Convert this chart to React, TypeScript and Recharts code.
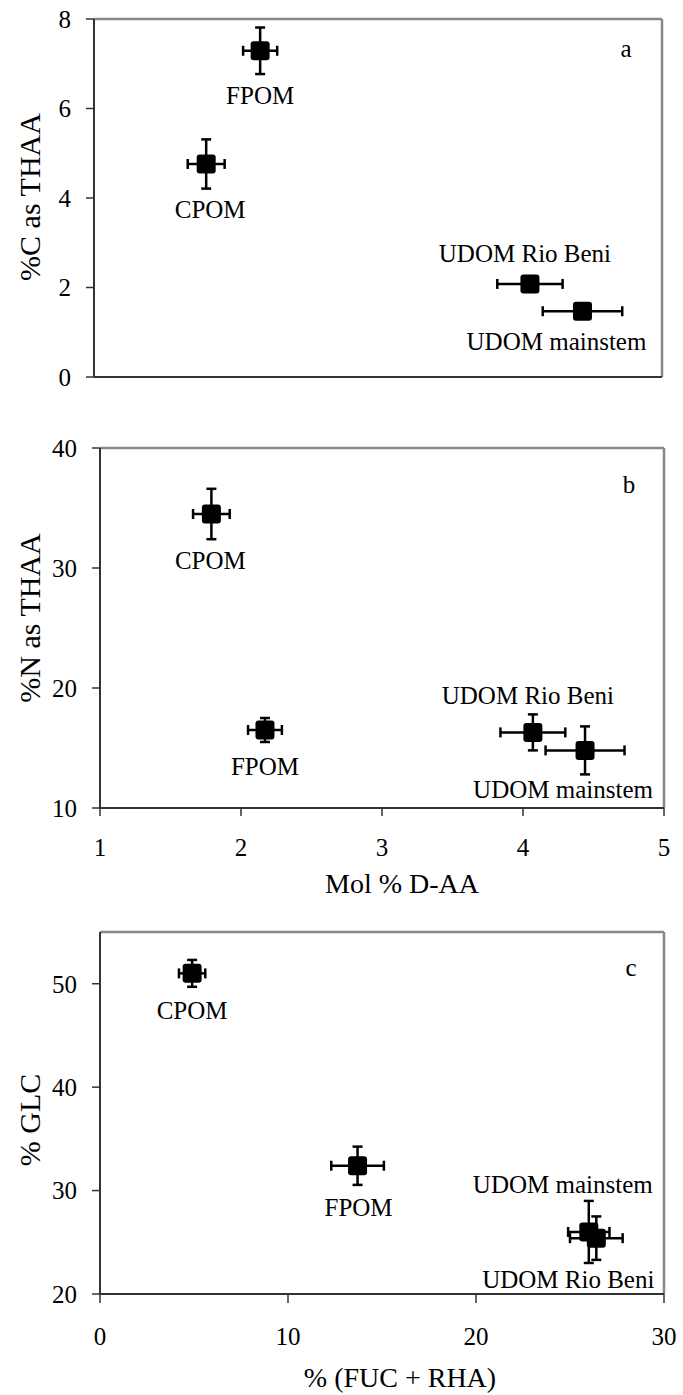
import React from "react";
import { ScatterChart, Scatter, XAxis, YAxis, ErrorBar, ReferenceLine } from "recharts";

const FONT = "'Liberation Serif', 'Times New Roman', Times, serif";

// panels a and b share the same samples on the Mol % D-AA axis
const SAMPLES_AB = ["FPOM", "CPOM", "UDOM Rio Beni", "UDOM mainstem"];
const MOL_DAA = [2.17, 1.79, 4.07, 4.44];
const MOL_DAA_ERR = [0.12, 0.13, 0.23, 0.28];
const C_THAA = [7.29, 4.76, 2.08, 1.47];
const C_THAA_ERR = [0.52, 0.55, 0.1, 0.1];
const N_THAA = [16.5, 34.5, 16.3, 14.8];
const N_THAA_ERR = [1.0, 2.1, 1.5, 2.0];

// panel c: carbohydrates
const SAMPLES_C = ["CPOM", "FPOM", "UDOM mainstem", "UDOM Rio Beni"];
const FUC_RHA = [4.9, 13.7, 26.0, 26.4];
const FUC_RHA_ERR = [0.7, 1.4, 1.1, 1.4];
const GLC = [51.0, 32.4, 26.0, 25.4];
const GLC_ERR = [1.3, 1.85, 3.0, 2.1];

const TICKS_DAA = [1, 2, 3, 4, 5];
const TICKS_C = [0, 2, 4, 6, 8];
const TICKS_N = [10, 20, 30, 40];
const TICKS_FUC = [0, 10, 20, 30];
const TICKS_GLC = [20, 30, 40, 50];

type Row = { name: string; x: number; y: number; ex: number; ey: number };

const rows = (names: string[], xs: number[], ys: number[], exs: number[], eys: number[]): Row[] =>
  names.map((name, i) => ({ name, x: xs[i], y: ys[i], ex: exs[i], ey: eys[i] }));

// where each sample name sits relative to its marker (dx to text centre, dy to baseline)
const LABELS_A: Record<string, [number, number]> = {
  FPOM: [0, 53],
  CPOM: [4, 54],
  "UDOM Rio Beni": [-5, -22],
  "UDOM mainstem": [-26, 39],
};
const LABELS_B: Record<string, [number, number]> = {
  CPOM: [-1, 55],
  FPOM: [0, 45],
  "UDOM Rio Beni": [-5, -28],
  "UDOM mainstem": [-22, 48],
};
const LABELS_C: Record<string, [number, number]> = {
  CPOM: [0, 46],
  FPOM: [1, 50],
  "UDOM mainstem": [-26, -39],
  "UDOM Rio Beni": [-28, 50],
};

const markerShape = (offsets: Record<string, [number, number]>) => (props: any) => {
  const { cx, cy, payload } = props;
  const [dx, dy] = offsets[payload.name] ?? [0, 0];
  return (
    <g>
      <rect x={cx - 9.5} y={cy - 9.5} width={19} height={19} rx={3} fill="#000" />
      <text
        x={cx + dx}
        y={cy + dy}
        textAnchor="middle"
        style={{ fontFamily: FONT, fontSize: 25 }}
        fill="#000"
      >
        {payload.name}
      </text>
    </g>
  );
};

interface PanelProps {
  top: number;
  height: number;
  data: Row[];
  labels: Record<string, [number, number]>;
  plotTop: number;
  plotLeft: number;
  plotRight: number;
  xAxisH: number;
  xDomain: [number, number];
  xTicks: number[];
  yDomain: [number, number];
  yTicks: number[];
  showXLabels: boolean;
  xTickSize: number;
  xTickMargin: number;
}

function Panel(p: PanelProps) {
  const tickStyle = { fontSize: 25, fill: "#000", style: { fontFamily: FONT } };
  return (
    <div style={{ position: "absolute", left: 0, top: p.top }}>
      <ScatterChart
        width={683}
        height={p.height}
        margin={{ top: p.plotTop, right: 683 - p.plotRight, bottom: 0, left: 0 }}
      >
        <XAxis
          type="number"
          dataKey="x"
          domain={p.xDomain}
          ticks={p.xTicks}
          height={p.xAxisH}
          axisLine={{ stroke: "#333", strokeWidth: 2 }}
          tickLine={{ stroke: "#333", strokeWidth: 1.5 }}
          tickSize={p.xTickSize}
          tickMargin={p.xTickMargin}
          tick={p.showXLabels ? tickStyle : false}
          allowDataOverflow
        />
        <YAxis
          type="number"
          dataKey="y"
          domain={p.yDomain}
          ticks={p.yTicks}
          width={p.plotLeft}
          axisLine={{ stroke: "#333", strokeWidth: 2 }}
          tickLine={{ stroke: "#333", strokeWidth: 1.5 }}
          tickSize={8}
          tickMargin={15}
          tick={tickStyle}
          allowDataOverflow
        />
        <ReferenceLine y={p.yDomain[1]} stroke="#888" strokeWidth={2.5} />
        <ReferenceLine x={p.xDomain[1]} stroke="#888" strokeWidth={2.5} />
        <Scatter data={p.data} shape={markerShape(p.labels)} isAnimationActive={false}>
          <ErrorBar dataKey="ex" direction="x" width={5} stroke="#000" strokeWidth={2.5} isAnimationActive={false} />
          <ErrorBar dataKey="ey" direction="y" width={5} stroke="#000" strokeWidth={2.5} isAnimationActive={false} />
        </Scatter>
      </ScatterChart>
    </div>
  );
}

function YTitle({ y, children }: { y: number; children: string }) {
  return (
    <text
      x={40}
      y={y}
      transform={`rotate(-90, 40, ${y})`}
      textAnchor="middle"
      style={{ fontFamily: FONT, fontSize: 30 }}
      fill="#000"
    >
      {children}
    </text>
  );
}

export default function App() {
  const dataA = rows(SAMPLES_AB, MOL_DAA, C_THAA, MOL_DAA_ERR, C_THAA_ERR);
  const dataB = rows(SAMPLES_AB, MOL_DAA, N_THAA, MOL_DAA_ERR, N_THAA_ERR);
  const dataC = rows(SAMPLES_C, FUC_RHA, GLC, FUC_RHA_ERR, GLC_ERR);
  const small = { fontFamily: FONT, fontSize: 25 };
  const big = { fontFamily: FONT, fontSize: 28 };

  return (
    <div style={{ position: "absolute", left: 0, top: 0, width: 683, height: 1395, background: "#fff", fontFamily: FONT }}>
      <Panel
        top={0}
        height={420}
        data={dataA}
        labels={LABELS_A}
        plotTop={19}
        plotLeft={94}
        plotRight={662}
        xAxisH={43}
        xDomain={[1, 5]}
        xTicks={TICKS_DAA}
        yDomain={[0, 8]}
        yTicks={TICKS_C}
        showXLabels={false}
        xTickSize={9}
        xTickMargin={22}
      />
      <Panel
        top={420}
        height={480}
        data={dataB}
        labels={LABELS_B}
        plotTop={28}
        plotLeft={100}
        plotRight={664}
        xAxisH={92}
        xDomain={[1, 5]}
        xTicks={TICKS_DAA}
        yDomain={[10, 40]}
        yTicks={TICKS_N}
        showXLabels={true}
        xTickSize={8}
        xTickMargin={22}
      />
      <Panel
        top={900}
        height={495}
        data={dataC}
        labels={LABELS_C}
        plotTop={32}
        plotLeft={100}
        plotRight={664}
        xAxisH={101}
        xDomain={[0, 30]}
        xTicks={TICKS_FUC}
        yDomain={[20, 55]}
        yTicks={TICKS_GLC}
        showXLabels={true}
        xTickSize={9}
        xTickMargin={24}
      />

      {/* axis titles and panel letters */}
      <svg
        width={683}
        height={1395}
        style={{ position: "absolute", left: 0, top: 0, pointerEvents: "none" }}
      >
        <YTitle y={197}>%C as THAA</YTitle>
        <YTitle y={618}>%N as THAA</YTitle>
        <YTitle y={1120}>% GLC</YTitle>
        <text x={402} y={893} textAnchor="middle" style={big}>
          Mol % D-AA
        </text>
        <text x={400} y={1387} textAnchor="middle" style={big}>
          % (FUC + RHA)
        </text>
        <text x={626} y={57} textAnchor="middle" style={small}>a</text>
        <text x={629} y={493} textAnchor="middle" style={small}>b</text>
        <text x={631} y={976} textAnchor="middle" style={small}>c</text>
      </svg>
    </div>
  );
}
